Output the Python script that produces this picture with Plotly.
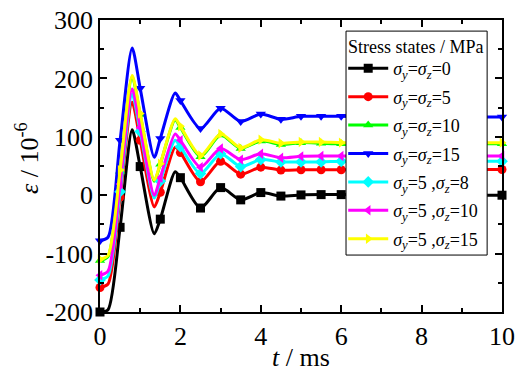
import plotly.graph_objects as go

t = [0, 0.2, 0.5, 0.8, 1.0, 1.35, 1.5, 1.87, 2.0, 2.5, 3.0, 3.5, 4.0, 4.5,
     5.0, 5.5, 6.0, 6.5, 7.0, 7.5, 8.0, 8.5, 9.0, 9.5, 10.0]

s0_0 = [-200, -196, -55, 112, 49, -66, -41, 40, 30, -22, 13, -8, 4.5, -1.5,
        0.5, 1, 1, 0.5, 0.5, 0.5, 0, 0, 0, 0, 0]
s5_5 = [-158, -152, -3, 159, 94, -20, 5, 82, 73, 23, 58, 36, 48, 43,
        43.5, 43.5, 43.5, 44, 44, 44, 44, 44, 44, 44, 44]
s10_10 = [-112, -105, 41, 203, 138, 24, 53, 129, 116, 66, 103, 80, 93, 87,
          90, 89, 88, 88, 88, 88, 88, 88, 88, 88, 88]
s15_15 = [-78, -72, 94, 252, 183, 65, 97, 175, 162, 114, 149, 126, 139, 130,
          135, 135, 135, 134, 134, 134, 134, 134, 134, 134, 134]
s5_8 = [-145, -138, 6, 173, 109, -5, 24, 94, 83, 37, 71, 49, 61, 57,
        57, 57, 58, 58, 58, 58, 58, 58, 58, 58, 58]
s5_10 = [-137, -130, 19, 182, 116, 0, 30, 105, 94, 48, 80, 61, 71, 64,
         66.5, 67, 67, 67, 67, 67, 67, 67, 67, 67, 67]
s5_15 = [-110, -103, 43, 205, 140, 26, 54, 131, 118, 68, 105, 81, 95, 89,
         91, 91, 90, 90, 90, 90, 90, 90, 90, 90, 90]

x_ticks = [0, 2, 4, 6, 8, 10]
x_labels = ["0", "2", "4", "6", "8", "10"]
y_ticks = [-200, -100, 0, 100, 200, 300]
y_labels = ["-200", "-100", "0", "100", "200", "300"]

x_title = "<i>t</i> / ms"
y_title = "<i>ε</i> / 10<sup>-6</sup>"
legend_title = "Stress states / MPa"
names = [
    "<i>σ</i><sub><i>y</i></sub>=<i>σ</i><sub><i>z</i></sub>=0",
    "<i>σ</i><sub><i>y</i></sub>=<i>σ</i><sub><i>z</i></sub>=5",
    "<i>σ</i><sub><i>y</i></sub>=<i>σ</i><sub><i>z</i></sub>=10",
    "<i>σ</i><sub><i>y</i></sub>=<i>σ</i><sub><i>z</i></sub>=15",
    "<i>σ</i><sub><i>y</i></sub>=5 ,<i>σ</i><sub><i>z</i></sub>=8",
    "<i>σ</i><sub><i>y</i></sub>=5 ,<i>σ</i><sub><i>z</i></sub>=10",
    "<i>σ</i><sub><i>y</i></sub>=5 ,<i>σ</i><sub><i>z</i></sub>=15",
]
series = [s0_0, s5_5, s10_10, s15_15, s5_8, s5_10, s5_15]
colors = ["#000000", "#ff0000", "#00ff00", "#0000ff", "#00ffff", "#ff00ff", "#ffff00"]
symbols = ["square", "circle", "triangle-up", "triangle-down", "diamond",
           "triangle-left", "triangle-right"]

FONT = "Liberation Serif, Times New Roman, serif"
fig = go.Figure()
for name, ys, c, sym in zip(names, series, colors, symbols):
    fig.add_trace(go.Scatter(x=t, y=ys, mode="lines", line=dict(color=c, width=3, shape="spline", smoothing=0.7),
                             showlegend=False, legendgroup=name, hoverinfo="skip"))
    mx = [tt for tt in t if abs(tt * 2 - round(tt * 2)) < 1e-9]
    my = [y for tt, y in zip(t, ys) if abs(tt * 2 - round(tt * 2)) < 1e-9]
    fig.add_trace(go.Scatter(x=mx, y=my, mode="markers", marker=dict(color=c, symbol=sym, size=9),
                             showlegend=False, legendgroup=name, cliponaxis=False))
    fig.add_trace(go.Scatter(x=[None], y=[None], mode="lines+markers", name=name,
                             line=dict(color=c, width=3), marker=dict(color=c, symbol=sym, size=9),
                             legendgroup=name))

axis_common = dict(showline=True, linecolor="black", linewidth=1.5, mirror="ticks",
                   ticks="inside", ticklen=7, tickwidth=1.5, tickcolor="black",
                   showgrid=False, zeroline=False, ticklabelstandoff=0, automargin=False,
                   tickfont=dict(family=FONT, size=26, color="black"))
fig.update_xaxes(range=[0, 10], tickvals=x_ticks, ticktext=x_labels,
                 minor=dict(dtick=1, tick0=0, ticks="inside", ticklen=4, tickwidth=1.5, tickcolor="black"),
                 title=dict(text=x_title, font=dict(family=FONT, size=26, color="black"), standoff=13),
                 **axis_common)
fig.update_yaxes(range=[-200, 300], tickvals=y_ticks, ticktext=y_labels,
                 minor=dict(dtick=50, tick0=0, ticks="inside", ticklen=4, tickwidth=1.5, tickcolor="black"),
                 **axis_common)

# y-axis title placed as rotated text
fig.add_annotation(text=y_title, xref="paper", yref="paper", x=-0.182, y=0.527,
                   textangle=-90, showarrow=False, xanchor="center", yanchor="middle",
                   font=dict(family=FONT, size=26, color="black"))

# legend frame and title (drawn as a box, legend entries placed inside it)
fig.add_shape(type="rect", xref="paper", yref="paper", x0=0.612, x1=0.963, y0=0.195, y1=0.962,
              line=dict(color="black", width=1), fillcolor="white", layer="above")
fig.add_annotation(text=legend_title, xref="paper", yref="paper", x=0.787, y=0.908,
                   showarrow=False, xanchor="center", yanchor="middle",
                   font=dict(family=FONT, size=18, color="black"))

fig.update_layout(
    width=516, height=372,
    margin=dict(l=100, r=14, t=20, b=60),
    paper_bgcolor="white", plot_bgcolor="white",
    legend=dict(x=0.605, y=0.897, xanchor="left", yanchor="top",
                bgcolor="rgba(0,0,0,0)", borderwidth=0,
                font=dict(family=FONT, size=18, color="black"),
                itemwidth=40, traceorder="grouped", tracegroupgap=2),
)
fig.write_html("out.html", config={"displayModeBar": False},
               post_script="document.body.style.margin='0';document.body.style.padding='0';")
